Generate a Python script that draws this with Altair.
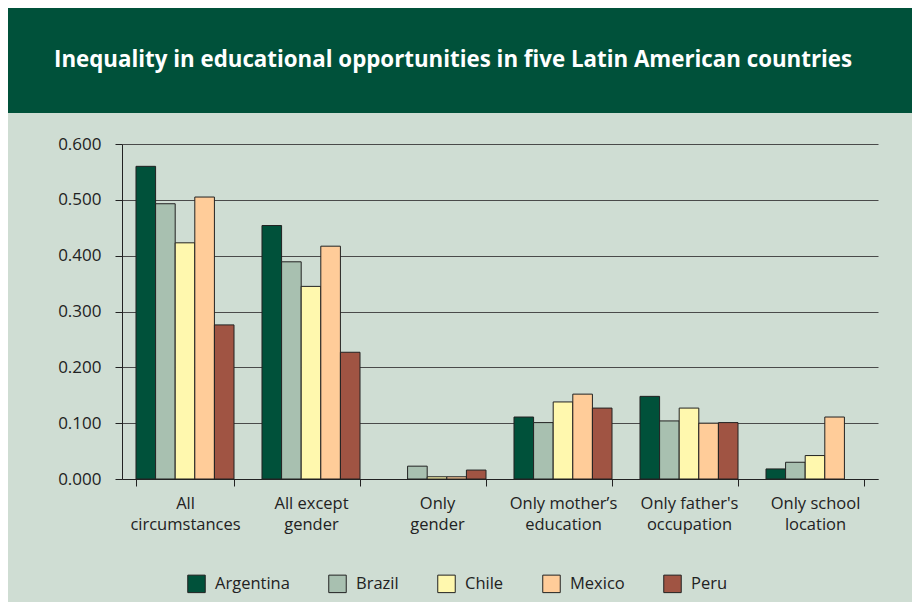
import altair as alt
import pandas as pd

title_text = "Inequality in educational opportunities in five Latin American countries"
categories = ["All|circumstances", "All except|gender", "Only|gender",
              "Only mother’s|education", "Only father's|occupation", "Only school|location"]
countries = ["Argentina", "Brazil", "Chile", "Mexico", "Peru"]
argentina = [0.560, 0.454, None, 0.111, 0.148, 0.018]
brazil = [0.493, 0.389, 0.023, 0.101, 0.104, 0.030]
chile = [0.423, 0.345, 0.004, 0.138, 0.127, 0.042]
mexico = [0.505, 0.417, 0.004, 0.152, 0.100, 0.111]
peru = [0.276, 0.227, 0.016, 0.127, 0.101, None]
y_ticks = [0, 0.1, 0.2, 0.3, 0.4, 0.5, 0.6]
colors = ["#00513A", "#A8C0B0", "#FFF8AE", "#FFCC99", "#A05443"]

series = [argentina, brazil, chile, mexico, peru]
rows = []
for country, vals in zip(countries, series):
    for cat, v in zip(categories, vals):
        if v is not None:
            rows.append({"category": cat, "country": country, "value": v})
df = pd.DataFrame(rows)

FONT = "Open Sans"
BANNER = "#00513A"
BG = "#CFDDD3"
INK = "#222222"

banner = alt.Chart(pd.DataFrame({"a": [0]})).mark_rect(color=BANNER).encode(
    x=alt.value(-114), x2=alt.value(790), y=alt.value(-136), y2=alt.value(-31)
)

title = alt.Chart(pd.DataFrame({"t": [title_text]})).mark_text(
    align="left", baseline="alphabetic", font=FONT, fontSize=22.3,
    fontWeight="bold", color="white"
).encode(text="t:N", x=alt.value(-68), y=alt.value(-77))

bars = alt.Chart(df).mark_bar(stroke=INK, strokeWidth=1).encode(
    x=alt.X("category:N", sort=categories, title=None,
            scale=alt.Scale(paddingInner=0.222, paddingOuter=0.111),
            axis=alt.Axis(labelExpr="split(datum.label, '|')", labelAngle=0,
                          tickBand="extent", tickSize=7, tickColor=INK,
                          domainColor=INK, labelFont=FONT, labelFontSize=16.5,
                          labelColor=INK, labelPadding=9, labelLineHeight=21,
                          labelBaseline="top", grid=False)),
    xOffset=alt.XOffset("country:N", sort=countries,
                        scale=alt.Scale(domain=countries, paddingInner=0, paddingOuter=0)),
    y=alt.Y("value:Q", title=None,
            scale=alt.Scale(domain=[0, 0.6], nice=False),
            axis=alt.Axis(values=y_ticks, format=".3f",
                          tickSize=7, tickColor=INK, domainColor=INK,
                          labelFont=FONT, labelFontSize=17, labelColor=INK,
                          labelPadding=14, grid=True, gridColor="#4a4a4a",
                          gridWidth=1)),
    color=alt.Color("country:N", sort=countries,
                    scale=alt.Scale(domain=countries, range=colors),
                    legend=alt.Legend(title=None)),
)

chart = alt.layer(banner, title, bars).properties(
    width=756, height=335,
    autosize=alt.AutoSizeParams(type="none"),
    padding={"left": 114, "top": 136, "right": 34, "bottom": 123},
    background=BG,
).configure_view(stroke=None).configure_legend(
    orient="none", legendX=65, legendY=430, direction="horizontal",
    symbolType="square", symbolSize=306, symbolStrokeColor=INK,
    symbolStrokeWidth=1, symbolOpacity=1, labelFont=FONT, labelFontSize=16.5,
    labelColor=INK, columnPadding=36, labelOffset=9, padding=0,
)

chart.save("out.html", embed_options={"renderer": "svg", "actions": False})
